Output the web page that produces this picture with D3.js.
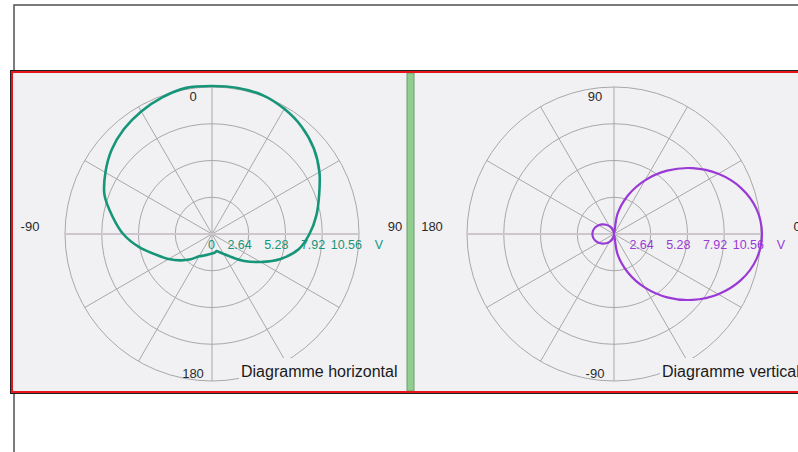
<!DOCTYPE html>
<html>
<head>
<meta charset="utf-8">
<script src="https://cdn.jsdelivr.net/npm/d3@7"></script>
<style>
  html, body { margin: 0; padding: 0; background: #ffffff; }
  svg { display: block; }
</style>
</head>
<body>
<div id="chart"></div>
<script>
// Radial axis (volts)
const ringValues = [2.64, 5.28, 7.92, 10.56];
const radialLabels = ["0", "2.64", "5.28", "7.92", "10.56"];
const radialUnit = "V";

// Horizontal diagram: degrees clockwise from top
const hAngles = [0, 10, 20, 30, 40, 50, 60, 70, 80, 90, 100, 110, 120, 130, 140, 150, 160, 165, 170, 180,
                 190, 200, 210, 220, 230, 240, 250, 260, 270, 280, 290, 300, 310, 320, 330, 340, 350];
const hValues = [10.63, 10.65, 10.62, 10.38, 10.04, 9.55, 8.91, 8.19, 7.61, 7.0, 6.32, 5.24, 4.02, 3.02, 2.16, 1.65, 1.35, 1.27, 1.34, 1.40,
                 1.50, 1.65, 1.85, 2.37, 2.95, 3.6, 4.31, 5.34, 6.38, 7.26, 8.22, 8.84, 9.41, 9.84, 10.17, 10.45, 10.66];
const hAngleLabels = ["0", "90", "180", "-90"];          // top, right, bottom, left

// Vertical diagram: degrees counter-clockwise from the right
const vAngles = [0, 10, 20, 30, 40, 50, 60, 70, 80, 90, 100, 110, 120, 130, 140, 150, 160, 170, 180,
                 190, 200, 210, 220, 230, 240, 250, 260, 270, 280, 290, 300, 310, 320, 330, 340, 350];
const vValues = [10.63, 10.39, 9.70, 8.65, 7.36, 5.94, 4.45, 2.96, 1.48, 0, 0.22, 0.44, 0.65, 0.87, 1.08, 1.27, 1.42, 1.52, 1.55,
                 1.52, 1.42, 1.27, 1.08, 0.87, 0.65, 0.44, 0.22, 0, 1.48, 2.96, 4.45, 5.94, 7.36, 8.65, 9.70, 10.39];
const vAngleLabels = ["90", "0", "-90", "180"];         // top, right, bottom, left

const W = 798, H = 452;
const panelBg = "#f1f1f4";
const outerR = 147;

const svg = d3.select("#chart").append("svg")
    .attr("width", W)
    .attr("height", H);

// window frame
svg.append("path")
    .attr("d", `M14,452 L14,5 L798,5`)
    .attr("fill", "none")
    .attr("stroke", "#505050")
    .attr("stroke-width", 1.5);

// red container frame
svg.append("rect")
    .attr("x", 10.5).attr("y", 70.5)
    .attr("width", 800).attr("height", 323)
    .attr("fill", panelBg)
    .attr("stroke", "#202020")
    .attr("stroke-width", 1);

const r = d3.scaleLinear().domain([0, 10.56]).range([0, outerR]);

function drawPolar(cx, cy, opts) {
    const g = svg.append("g").attr("transform", `translate(${cx},${cy})`);

    // rings
    g.selectAll("circle.ring")
        .data(ringValues)
        .join("circle")
        .attr("class", "ring")
        .attr("r", d => r(d))
        .attr("fill", "none")
        .attr("stroke", "#a8a8a8")
        .attr("stroke-width", 1);

    // spokes every 30 degrees
    const spokes = d3.range(0, 360, 30);
    g.selectAll("line.spoke")
        .data(spokes)
        .join("line")
        .attr("class", "spoke")
        .attr("x1", 0).attr("y1", 0)
        .attr("x2", d => outerR * Math.sin(d * Math.PI / 180))
        .attr("y2", d => -outerR * Math.cos(d * Math.PI / 180))
        .attr("stroke", "#a8a8a8")
        .attr("stroke-width", 1);

    // horizontal axis line
    g.append("line")
        .attr("x1", -outerR).attr("x2", outerR)
        .attr("y1", 0).attr("y2", 0)
        .attr("stroke", "#cdc6cd")
        .attr("stroke-width", 2);

    // cover behind the title (hides part of the outer ring)
    g.append("rect")
        .attr("x", opts.titleX - cx - 2)
        .attr("y", 124)
        .attr("width", 165)
        .attr("height", 33)
        .attr("fill", panelBg);

    // series
    const line = d3.lineRadial()
        .angle(d => opts.toAngle(d[0]) * Math.PI / 180)
        .radius(d => r(d[1]))
        .curve(d3.curveCatmullRomClosed.alpha(0.5));

    const pts = opts.angles.map((a, i) => [a, opts.values[i]]);
    g.append("path")
        .attr("d", line(pts))
        .attr("fill", "none")
        .attr("stroke", opts.color)
        .attr("stroke-width", opts.width);

    // radial labels
    const labels = opts.showZero ? radialLabels : radialLabels.slice(1);
    const vals = opts.showZero ? [0].concat(ringValues) : ringValues;
    g.selectAll("text.rl")
        .data(labels)
        .join("text")
        .attr("class", "rl")
        .attr("x", (d, i) => r(vals[i]) + 3)
        .attr("y", 15)
        .attr("text-anchor", "end")
        .attr("fill", opts.color)
        .style("font-family", "'Liberation Sans', Arial, sans-serif")
        .style("font-size", "12.5px")
        .text(d => d);
    g.append("text")
        .attr("x", 167).attr("y", 15)
        .attr("text-anchor", "middle")
        .attr("fill", opts.color)
        .style("font-family", "'Liberation Sans', Arial, sans-serif")
        .style("font-size", "12.5px")
        .text(radialUnit);

    // angle labels: top, right, bottom, left
    const pos = [[-19, -133], [183, -3], [-19, 144], [-182, -3]];
    g.selectAll("text.al")
        .data(opts.angleLabels)
        .join("text")
        .attr("class", "al")
        .attr("x", (d, i) => pos[i][0])
        .attr("y", (d, i) => pos[i][1])
        .attr("text-anchor", "middle")
        .attr("fill", "#2a2a2a")
        .style("font-family", "'Liberation Sans', Arial, sans-serif")
        .style("font-size", "13px")
        .text(d => d);

    // title
    svg.append("text")
        .attr("x", opts.titleX)
        .attr("y", 377)
        .attr("fill", "#1a1a1a")
        .style("font-family", "'Liberation Sans', Arial, sans-serif")
        .style("font-size", "16px")
        .text(opts.title);
}

drawPolar(212, 234, {
    angles: hAngles,
    values: hValues,
    toAngle: a => a,
    color: "#179579",
    width: 2.6,
    angleLabels: hAngleLabels,
    showZero: true,
    title: "Diagramme horizontal",
    titleX: 241
});

drawPolar(614, 234, {
    angles: vAngles,
    values: vValues,
    toAngle: a => 90 - a,
    color: "#9a3ad6",
    width: 2.2,
    angleLabels: vAngleLabels,
    showZero: false,
    title: "Diagramme vertical",
    titleX: 662
});

// splitter between the two charts
svg.append("rect")
    .attr("x", 407).attr("y", 73)
    .attr("width", 7).attr("height", 318)
    .attr("fill", "#90cf90")
    .attr("stroke", "#6d9c6d")
    .attr("stroke-width", 1);

// red frame on top
svg.append("rect")
    .attr("x", 12).attr("y", 72)
    .attr("width", 800).attr("height", 320)
    .attr("fill", "none")
    .attr("stroke", "#e8141c")
    .attr("stroke-width", 2);
</script>
</body>
</html>
